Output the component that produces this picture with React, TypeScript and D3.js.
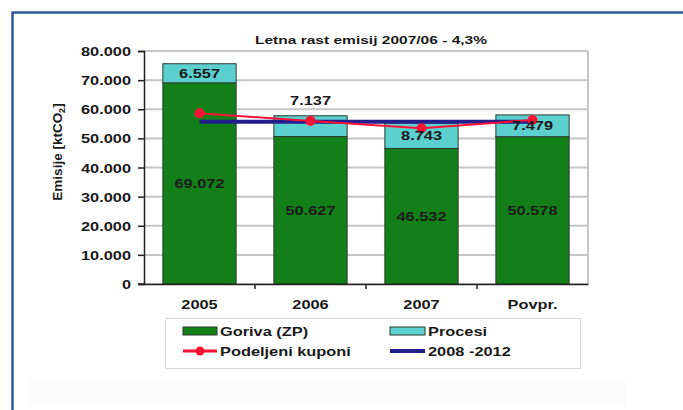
import React, { useEffect, useRef } from 'react';
import * as d3 from 'd3';

// chart data
const categories = ['2005', '2006', '2007', 'Povpr.'];
const goriva = [69072, 50627, 46532, 50578];
const procesi = [6557, 7137, 8743, 7479];
const kuponi = [58600, 56000, 53500, 56300];
const obdobje = [55700, 55700, 55700, 55700];
const yTicks = [0, 10000, 20000, 30000, 40000, 50000, 60000, 70000, 80000];
const title = 'Letna rast emisij 2007/06 - 4,3%';

const W = 683;
const H = 410;
const SX = 1.26; // the source picture is stretched horizontally
const FONT = '"Liberation Sans", Arial, sans-serif';

const fmt = (v: number) => d3.format(',')(v).replace(/,/g, '.');

function App(): JSX.Element {
  const svgRef = useRef<SVGSVGElement>(null);

  useEffect(() => {
    const svg = d3.select(svgRef.current);
    svg.selectAll('*').remove();

    const margin = { top: 51, right: 95, bottom: 126, left: 144 };

    const x = d3.scaleBand<string>()
      .domain(categories)
      .range([margin.left, W - margin.right])
      .paddingInner(0.34)
      .paddingOuter(0.17);

    const y = d3.scaleLinear()
      .domain([0, 80000])
      .range([H - margin.bottom, margin.top]);

    const stretchText = (g: any, tx: number, ty: number, txt: string, size: number, anchor = 'middle', sx = SX) =>
      g.append('text')
        .attr('transform', `translate(${tx},${ty}) scale(${sx},1)`)
        .attr('text-anchor', anchor)
        .attr('font-family', FONT)
        .attr('font-weight', 'bold')
        .attr('font-size', size)
        .attr('fill', '#1a1a1a')
        .text(txt);

    // outer frame (only top & left visible)
    svg.append('path')
      .attr('d', `M12.5,${H}V12.5H${W}`)
      .attr('fill', 'none')
      .attr('stroke', '#2a58a0')
      .attr('stroke-width', 2.5);

    svg.append('rect')
      .attr('x', 28).attr('y', 382).attr('width', 598).attr('height', 24)
      .attr('fill', '#fbfbfb');

    // grid
    svg.append('g')
      .selectAll('line')
      .data(yTicks)
      .join('line')
      .attr('x1', margin.left).attr('x2', W - margin.right)
      .attr('y1', d => y(d)).attr('y2', d => y(d))
      .attr('stroke', '#c6c6c6')
      .attr('stroke-width', 2);

    svg.append('line')
      .attr('x1', W - margin.right).attr('x2', W - margin.right)
      .attr('y1', y(80000)).attr('y2', y(0))
      .attr('stroke', '#c6c6c6')
      .attr('stroke-width', 2);

    // stacked bars
    const stackData = categories.map((c, i) => ({ cat: c, goriva: goriva[i], procesi: procesi[i] }));
    const series = d3.stack<any>().keys(['goriva', 'procesi'])(stackData);
    const colors: Record<string, string> = { goriva: '#137f19', procesi: '#5cd0cf' };

    svg.append('g')
      .selectAll('g')
      .data(series)
      .join('g')
      .attr('fill', d => colors[d.key])
      .selectAll('rect')
      .data(d => d)
      .join('rect')
      .attr('x', d => x(d.data.cat)!)
      .attr('width', x.bandwidth())
      .attr('y', d => y(d[1]))
      .attr('height', d => y(d[0]) - y(d[1]))
      .attr('stroke', '#2b3b2b')
      .attr('stroke-width', 1);

    // y axis
    const yAxis = svg.append('g')
      .attr('transform', `translate(${margin.left},0)`)
      .call(d3.axisLeft(y).tickValues(yTicks).tickSize(6).tickFormat(d => fmt(+d)));
    yAxis.select('.domain').attr('stroke', '#222').attr('stroke-width', 1.5);
    yAxis.selectAll('.tick line').attr('stroke', '#222').attr('stroke-width', 1.5);
    yAxis.selectAll('.tick text')
      .attr('x', null)
      .attr('dy', null)
      .attr('transform', `translate(-13,4.5) scale(${SX},1)`)
      .attr('font-family', FONT)
      .attr('font-weight', 'bold')
      .attr('font-size', 13)
      .attr('fill', '#1a1a1a');

    // x axis
    const xAxis = svg.append('g')
      .attr('transform', `translate(0,${y(0)})`)
      .call(d3.axisBottom(x).tickSize(0).tickSizeOuter(0));
    xAxis.select('.domain').attr('stroke', '#222').attr('stroke-width', 1.5);
    xAxis.selectAll('.tick text')
      .attr('y', null)
      .attr('dy', null)
      .attr('transform', `translate(0,25) scale(${SX},1)`)
      .attr('font-family', FONT)
      .attr('font-weight', 'bold')
      .attr('font-size', 13)
      .attr('fill', '#1a1a1a');
    xAxis.selectAll('.sep')
      .data(categories.slice(1))
      .join('line')
      .attr('class', 'sep')
      .attr('x1', d => x(d)! - x.step() * x.paddingInner() / 2)
      .attr('x2', d => x(d)! - x.step() * x.paddingInner() / 2)
      .attr('y1', 0).attr('y2', 5)
      .attr('stroke', '#222')
      .attr('stroke-width', 1.5);
    xAxis.append('line')
      .attr('x1', margin.left - 6).attr('x2', margin.left)
      .attr('y1', 0).attr('y2', 0)
      .attr('stroke', '#222').attr('stroke-width', 1.5);

    // lines
    const cx = (i: number) => x(categories[i])! + x.bandwidth() / 2;
    const line = d3.line<number>().x((_, i) => cx(i)).y(d => y(d));

    svg.append('path')
      .datum(obdobje)
      .attr('d', line)
      .attr('fill', 'none')
      .attr('stroke', '#221e8c')
      .attr('stroke-width', 4);

    svg.append('path')
      .datum(kuponi)
      .attr('d', line)
      .attr('fill', 'none')
      .attr('stroke', '#ff1234')
      .attr('stroke-width', 2);

    svg.append('g')
      .selectAll('circle')
      .data(kuponi)
      .join('circle')
      .attr('cx', (_, i) => cx(i))
      .attr('cy', d => y(d))
      .attr('r', 5)
      .attr('fill', '#ff1234');

    // data labels
    const labels = svg.append('g');
    goriva.forEach((v, i) => {
      stretchText(labels, cx(i), (y(0) + y(v)) / 2 + 4.5, fmt(v), 13);
    });
    procesi.forEach((v, i) => {
      const top = y(goriva[i] + v);
      const mid = (y(goriva[i]) + top) / 2;
      // the 2006 label sits above its bar in the original
      const ly = categories[i] === '2006' ? top - 11 : mid + 4.5;
      stretchText(labels, cx(i), ly, fmt(v), 13);
    });

    // title
    stretchText(svg, 371, 44, title, 11.5, 'middle', 1.35);

    // y title
    const yt = svg.append('text')
      .attr('transform', `translate(62,152) rotate(-90)`)
      .attr('text-anchor', 'middle')
      .attr('font-family', FONT)
      .attr('font-weight', 'bold')
      .attr('font-size', 13.5)
      .attr('fill', '#1a1a1a');
    yt.append('tspan').text('Emisije [ktCO');
    yt.append('tspan').attr('font-size', 9).attr('dy', 3).text('2');
    yt.append('tspan').attr('dy', -3).text(']');

    // legend
    const lg = svg.append('g');
    lg.append('rect')
      .attr('x', 165.5).attr('y', 318.5).attr('width', 415).attr('height', 50)
      .attr('fill', '#fff')
      .attr('stroke', '#d8d8d8');

    const row1 = 331;
    const row2 = 351;
    lg.append('rect').attr('x', 183).attr('y', row1 - 4).attr('width', 34).attr('height', 8)
      .attr('fill', colors.goriva).attr('stroke', '#2b3b2b');
    stretchText(lg, 220, row1 + 4.5, 'Goriva (ZP)', 13, 'start');
    lg.append('rect').attr('x', 390).attr('y', row1 - 4).attr('width', 35).attr('height', 8)
      .attr('fill', colors.procesi).attr('stroke', '#2b3b2b');
    stretchText(lg, 428, row1 + 4.5, 'Procesi', 13, 'start');

    lg.append('line').attr('x1', 183).attr('x2', 217).attr('y1', row2).attr('y2', row2)
      .attr('stroke', '#ff1234').attr('stroke-width', 3);
    lg.append('circle').attr('cx', 200).attr('cy', row2).attr('r', 4.5).attr('fill', '#ff1234');
    stretchText(lg, 220, row2 + 4.5, 'Podeljeni kuponi', 13, 'start');
    lg.append('line').attr('x1', 390).attr('x2', 425).attr('y1', row2).attr('y2', row2)
      .attr('stroke', '#221e8c').attr('stroke-width', 4);
    stretchText(lg, 428, row2 + 4.5, '2008 -2012', 13, 'start');
  }, []);

  return (
    <div>
      <svg ref={svgRef} width={W} height={H}
        style={{ position: 'absolute', left: 0, top: 0, background: '#fff' }} />
    </div>
  );
}

export default App;
